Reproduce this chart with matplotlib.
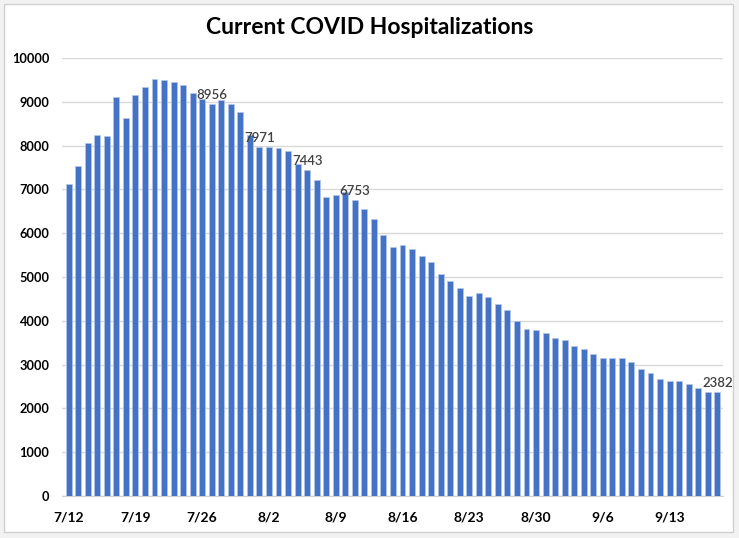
import numpy as np
import pandas as pd
import matplotlib
matplotlib.use('Agg')
from matplotlib import pyplot as plt
from matplotlib.patches import Rectangle

# daily current hospitalizations, 7/12 .. 9/18
dates = pd.date_range('2020-07-12', periods=69, freq='D')
hosp = [7130, 7540, 8060, 8235, 8220, 9100, 8630, 9150, 9335, 9510,
        9505, 9460, 9380, 9190, 9055, 8956, 9030, 8945, 8765, 8235,
        7971, 7965, 7945, 7885, 7585, 7443, 7210, 6835, 6880, 6945,
        6753, 6560, 6335, 5970, 5695, 5720, 5650, 5490, 5335, 5060,
        4900, 4745, 4560, 4630, 4540, 4380, 4245, 3990, 3815, 3790,
        3720, 3600, 3555, 3420, 3350, 3235, 3145, 3145, 3145, 3055,
        2890, 2805, 2665, 2620, 2620, 2550, 2460, 2380, 2382]
tick_idx = [0, 7, 14, 21, 28, 35, 42, 49, 56, 63]
tick_lbl = ['7/12', '7/19', '7/26', '8/2', '8/9', '8/16', '8/23', '8/30', '9/6', '9/13']
label_idx = [15, 20, 25, 30, 68]
yticks = np.arange(0, 10001, 1000)

plt.rcParams['font.family'] = ['Lato', 'DejaVu Sans']

fig = plt.figure(figsize=(7.39, 5.38), dpi=100)
fig.patch.set_facecolor('#F2F2F2')
fig.patches.append(Rectangle((4/739, 6/538), 729/739, 528/538, transform=fig.transFigure,
                             facecolor='white', edgecolor='#D0D0D0', linewidth=1, zorder=-1))

ax = fig.add_axes([62/739, 42/538, 661/739, 438/538])
ax.set_facecolor('none')
x = np.arange(len(dates))
ax.bar(x, hosp, width=0.62, color='#4472C4', edgecolor='#B4C7E7', linewidth=0.5, zorder=3)

# data labels on a few bars
for i in label_idx:
    ax.annotate(f'{hosp[i]}', (x[i], hosp[i]), xytext=(0, 2), textcoords='offset points',
                ha='center', va='bottom', fontsize=9.5, color='#404040',
                fontweight='semibold', zorder=4)

ax.set_xlim(-0.7, 68.6)
ax.set_ylim(0, 10000)
ax.set_yticks(yticks)
ax.set_yticklabels([str(v) for v in yticks])
ax.set_xticks(tick_idx)
ax.set_xticklabels(tick_lbl)
ax.tick_params(axis='y', length=0, pad=9, labelsize=9.2)
ax.tick_params(axis='x', length=0, pad=11, labelsize=10)
for lab in ax.get_xticklabels() + ax.get_yticklabels():
    lab.set_fontweight('bold')
ax.grid(axis='y', color='#D9D9D9', linewidth=1, zorder=0)
for s in ['top', 'right', 'left']:
    ax.spines[s].set_visible(False)
ax.spines['bottom'].set_color('#D0D0D0')

fig.text(0.5, 1 - 28/538, 'Current COVID Hospitalizations', ha='center', va='center',
         fontsize=16.5, fontweight='bold')

fig.savefig('out.png', dpi=100)
